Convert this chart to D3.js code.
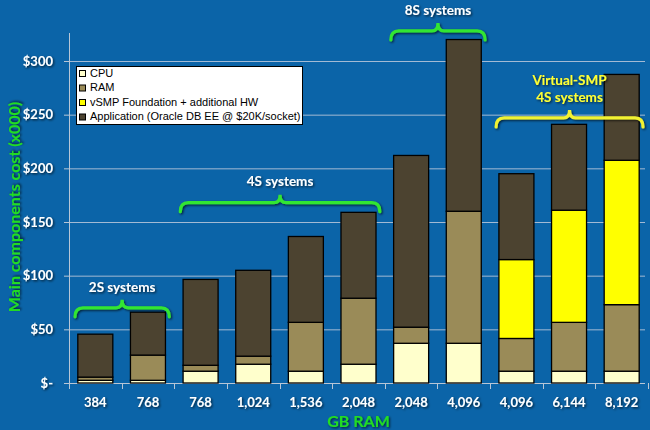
<!DOCTYPE html>
<html><head><meta charset="utf-8">
<script src="https://cdn.jsdelivr.net/npm/d3@7"></script>
<style>html,body{margin:0;padding:0;background:#0B64A8;}svg{display:block;}</style>
</head><body><svg id="c" width="650" height="430"></svg>
<script>
const categories = ["384","768","768","1,024","1,536","2,048","2,048","4,096","4,096","6,144","8,192"];
const cpu  = [2.5, 2.5, 11, 17.5, 11, 17.5, 37, 37, 11, 11, 11];
const ram  = [3, 23.5, 5.5, 7.5, 45.5, 61.5, 15, 123, 30.5, 45.5, 62];
const vsmp = [0, 0, 0, 0, 0, 0, 0, 0, 73.5, 104.5, 134.5];
const app  = [40, 40, 80, 80, 80, 80, 160, 160, 80, 80, 80];
const seriesNames = ["CPU","RAM","vSMP Foundation + additional HW","Application (Oracle DB EE @ $20K/socket)"];
const yTicks = [0, 50, 100, 150, 200, 250, 300];
const groups = [
  {label:["2S systems"], from:0, to:1, at:70, color:"#33E633", text:"#FFFFFF"},
  {label:["4S systems"], from:2, to:5, at:168, color:"#33E633", text:"#FFFFFF"},
  {label:["8S systems"], from:6, to:7, at:328, color:"#33E633", text:"#FFFFFF"},
  {label:["Virtual-SMP","4S systems"], from:8, to:10, at:247, color:"#F2F233", text:"#FFFF33"}
];
const colors = ["#FFFFCC","#9A8B58","#FFFF00","#4C4330"];

const svg = d3.select("#c");
const defs = svg.append("defs");
const f = defs.append("filter").attr("id","sh").attr("x","-20%").attr("y","-30%").attr("width","140%").attr("height","160%");
f.append("feDropShadow").attr("dx",1.2).attr("dy",1.2).attr("stdDeviation",0.9).attr("flood-color","#000").attr("flood-opacity",0.7);

const L = 69, R = 648, T = 33, B = 383;
const x = d3.scaleBand().domain(d3.range(categories.length)).range([L, R]).paddingInner(0.335).paddingOuter(0.1675);
const y = d3.scaleLinear().domain([0, 300]).range([B, B - 322]);

// gridlines
svg.append("g").selectAll("line").data(yTicks.filter(d=>d>0)).join("line")
  .attr("x1", L).attr("x2", 645).attr("y1", d=>y(d)+0.5).attr("y2", d=>y(d)+0.5)
  .attr("stroke","#A3BAD4").attr("stroke-width",1);

// axes lines
svg.append("line").attr("x1",L+0.5).attr("x2",L+0.5).attr("y1",T).attr("y2",B).attr("stroke","#B8C6D6");
svg.append("line").attr("x1",L).attr("x2",645).attr("y1",B+0.5).attr("y2",B+0.5).attr("stroke","#B8C6D6");
svg.append("g").selectAll("line").data(yTicks).join("line")
  .attr("x1",L-5).attr("x2",L).attr("y1",d=>y(d)+0.5).attr("y2",d=>y(d)+0.5).attr("stroke","#B8C6D6");
const step = x.step();
svg.append("g").selectAll("line").data(d3.range(categories.length+1)).join("line")
  .attr("x1",i=>Math.round(L + i*step)+0.5).attr("x2",i=>Math.round(L + i*step)+0.5)
  .attr("y1",B).attr("y2",B+6).attr("stroke","#B8C6D6");

// stacked bars
const rows = categories.map((c,i)=>({i, cpu:cpu[i], ram:ram[i], vsmp:vsmp[i], app:app[i]}));
const stack = d3.stack().keys(["cpu","ram","vsmp","app"])(rows);
svg.append("g").selectAll("g").data(stack).join("g").attr("fill",(d,k)=>colors[k])
  .selectAll("rect").data(d=>d.filter(p=>p[1]-p[0]>0)).join("rect")
  .attr("x", d=>x(d.data.i)).attr("width", x.bandwidth())
  .attr("y", d=>y(d[1])).attr("height", d=>y(d[0])-y(d[1]))
  .attr("stroke","#000").attr("stroke-width",1.3);

// y tick labels
svg.append("g").selectAll("text").data(yTicks).join("text")
  .attr("x", 53).attr("y", d=>y(d)).attr("dy","0.35em").attr("text-anchor","end")
  .attr("fill","#fff").attr("font-family","Lato").attr("font-weight","bold").attr("font-size",13)
  .attr("filter","url(#sh)")
  .text(d=> d===0 ? "$-" : "$"+d);

// x tick labels
svg.append("g").selectAll("text").data(categories).join("text")
  .attr("x",(d,i)=>x(i)+x.bandwidth()/2).attr("y",402).attr("dy","0.35em").attr("text-anchor","middle")
  .attr("fill","#fff").attr("font-family","Lato").attr("font-weight","bold").attr("font-size",13)
  .attr("filter","url(#sh)").text(d=>d);

// axis titles
svg.append("text").attr("x",(L+R)/2).attr("y",421).attr("dy","0.35em").attr("text-anchor","middle")
  .attr("fill","#22DD22").attr("font-family","Lato").attr("font-weight","bold").attr("font-size",16)
  .attr("filter","url(#sh)").text("GB RAM");
svg.append("text").attr("transform","translate(14,207) rotate(-90)").attr("dy","0.35em").attr("text-anchor","middle")
  .attr("fill","#22DD22").attr("font-family","Lato").attr("font-weight","bold").attr("font-size",16)
  .attr("filter","url(#sh)").text("Main components cost (x000)");

// braces
groups.forEach(g=>{
  const x0 = x(g.from) - x.paddingInner()*step/2 + 6;
  const x1 = x(g.to) + x.bandwidth() + x.paddingInner()*step/2 - 5;
  const yy = y(g.at), cx = (x0+x1)/2, r = 6;
  const p = `M${x0},${yy+9} Q${x0},${yy} ${x0+r+2},${yy} L${cx-6},${yy} Q${cx},${yy} ${cx},${yy-8} Q${cx},${yy} ${cx+6},${yy} L${x1-r-2},${yy} Q${x1},${yy} ${x1},${yy+9}`;
  svg.append("path").attr("d",p).attr("fill","none").attr("stroke",g.color).attr("stroke-width",3.2)
    .attr("stroke-linecap","round").attr("filter","url(#sh)");
  const n = g.label.length;
  g.label.forEach((t,k)=>{
    svg.append("text").attr("x",cx).attr("y", yy - 21 - (n-1-k)*17).attr("dy","0.35em").attr("text-anchor","middle")
      .attr("fill",g.text).attr("font-family","Lato").attr("font-weight","bold").attr("font-size",13.5)
      .attr("filter","url(#sh)").text(t);
  });
});

// legend
const lg = svg.append("g").attr("transform","translate(76,66)");
lg.append("rect").attr("x",0.5).attr("y",0.5).attr("width",226).attr("height",58).attr("fill","#fff").attr("stroke","#000");
seriesNames.forEach((s,k)=>{
  const yy = 7 + k*14.5;
  lg.append("rect").attr("x",3.5).attr("y",yy-3+0.5).attr("width",6).attr("height",6).attr("fill",colors[k]).attr("stroke","#000");
  lg.append("text").attr("x",14).attr("y",yy).attr("dy","0.35em").attr("font-family","Liberation Sans").attr("font-size",11)
    .attr("fill","#000").text(s);
});
</script></body></html>
